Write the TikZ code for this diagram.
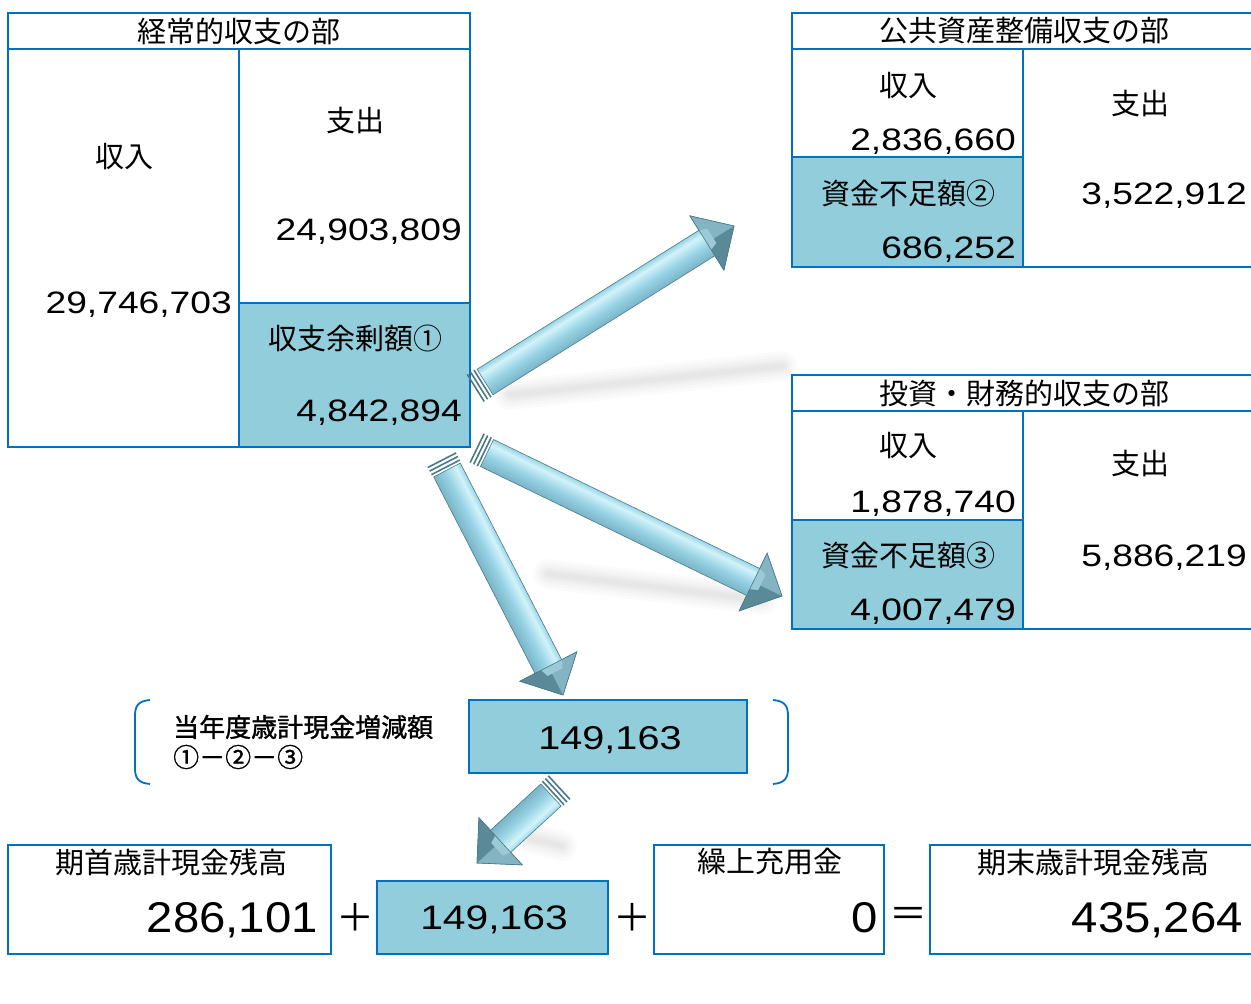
\documentclass[tikz,border=0pt]{standalone}
\usepackage{fontspec}
\setmainfont{Noto Sans CJK JP}
\newfontfamily\jp{Noto Sans CJK JP}
\newfontfamily\jpb[FakeBold=1.2]{Noto Sans CJK JP}
\newfontfamily\numA[FakeStretch=1.2]{Liberation Sans}
\newfontfamily\numB[FakeStretch=1.1]{Liberation Sans}
\usetikzlibrary{calc}
\definecolor{bd}{HTML}{0070C0}
\definecolor{fl}{HTML}{92CDDC}
\definecolor{adk}{HTML}{4F7F8C}
\definecolor{aed}{HTML}{4A7A88}
\definecolor{amd}{HTML}{74AEC0}
\definecolor{alt}{HTML}{97D3E5}
\definecolor{ahl}{HTML}{D2F3FA}
\definecolor{atp}{HTML}{7FB8C9}
\definecolor{ahd}{HTML}{6E9FAD}
\definecolor{hup}{HTML}{84B3C1}
\definecolor{hlo}{HTML}{5A8A98}
\definecolor{hin}{HTML}{9CC9D6}
\pgfdeclareverticalshading{arrowshade}{100bp}{color(0bp)=(ahd); color(26bp)=(adk); color(28bp)=(adk); color(36bp)=(amd); color(48bp)=(alt); color(57bp)=(ahl); color(62bp)=(alt); color(70bp)=(atp); color(73bp)=(ahd); color(100bp)=(ahd)}
\newdimen\adx \newdimen\ady
\newcommand\mkcell[6]{\node[#1, minimum width={#5-#3}, minimum height={#6-#4}] (#2) at ({(#3+#5)/2},{(#4+#6)/2}) {};}
\newcommand\blockarrow[2]{%
  \pgfextractx{\adx}{\pgfpointdiff{\pgfpointanchor{#1}{center}}{\pgfpointanchor{#2}{center}}}%
  \pgfextracty{\ady}{\pgfpointdiff{\pgfpointanchor{#1}{center}}{\pgfpointanchor{#2}{center}}}%
  \pgfmathsetmacro\aang{atan2(\ady,\adx)}%
  \pgfmathsetmacro\alen{veclen(\adx,\ady)}%
  \begin{scope}[transform canvas={shift={(#1)},rotate=\aang}]
    \path[arrowbody] (0pt,-15pt) -- ({\alen pt-32pt},-15pt) -- ({\alen pt-32pt},-32pt) -- (\alen pt,0pt)
       -- ({\alen pt-32pt},32pt) -- ({\alen pt-32pt},15pt) -- (0pt,15pt) -- cycle;
    \fill[hup] ({\alen pt-32pt},0pt) -- ({\alen pt-32pt},32pt) -- (\alen pt,0pt) -- cycle;
    \fill[hlo] ({\alen pt-32pt},0pt) -- ({\alen pt-32pt},-32pt) -- (\alen pt,0pt) -- cycle;
    \fill[hin] ({\alen pt-32pt},-8pt) -- ({\alen pt-24pt},-5pt) -- ({\alen pt-24pt},12pt) -- ({\alen pt-32pt},15pt) -- cycle;
    \draw[aed, line width=0.6pt, line join=miter] ({\alen pt-32pt},-32pt) -- (\alen pt,0pt) -- ({\alen pt-32pt},32pt) -- cycle;
    \foreach \k in {3,7,11}{\draw[stripe] (-\k pt,-16pt) -- (-\k pt,16pt);}
  \end{scope}%
}
\newcommand\softshadow[2]{%
  \foreach \w in {30,24,18,13,9,5}{\draw[line width=\w pt, line cap=round, gray, opacity=0.03] (#1) -- (#2);}%
}
\tikzset{
  cell/.style={draw=bd, line width=2.6pt, inner sep=0pt, outer sep=0pt, rectangle},
  fcell/.style={cell, fill=fl},
  lbl/.style={font=\jp\fontsize{29}{29}\selectfont, inner sep=0pt},
  lblb/.style={font=\jpb\fontsize{26}{26}\selectfont, inner sep=0pt, anchor=west},
  numt/.style={font=\numA\fontsize{31}{31}\selectfont, inner sep=0pt, anchor=base east},
  numr/.style={font=\numA\fontsize{33}{33}\selectfont, inner sep=0pt, anchor=base},
  numbig/.style={font=\numB\fontsize{43}{43}\selectfont, inner sep=0pt, anchor=base east},
  numsm/.style={font=\numA\fontsize{34}{34}\selectfont, inner sep=0pt, anchor=base},
  op/.style={font=\jp\fontsize{38}{38}\selectfont, inner sep=0pt},
  arrowbody/.style={shading=arrowshade, draw=aed, line width=0.6pt, line join=miter},
  stripe/.style={draw=aed, line width=1.6pt},
  brk/.style={draw=bd, line width=1.8pt}
}
\begin{document}
\begin{tikzpicture}[x=1pt,y=-1pt]
\useasboundingbox[fill=white] (0,0) rectangle (1251,1004);
% ---------- shadows ----------
\coordinate (sh1a) at (510,395); \coordinate (sh1b) at (782,366);
\coordinate (sh2a) at (548,574); \coordinate (sh2b) at (762,600);
\coordinate (sh4a) at (530,838); \coordinate (sh4b) at (562,846);
\softshadow{sh1a}{sh1b}
\softshadow{sh2a}{sh2b}
\softshadow{sh4a}{sh4b}
% ---------- box 1 ----------
\mkcell{cell}{c1t}{8}{13}{470}{49}
\mkcell{cell}{c1l}{8}{49}{239}{447}
\mkcell{cell}{c1a}{239}{49}{470}{303}
\mkcell{fcell}{c1b}{239}{303}{470}{447}
\node[lbl] (t1) at (239,31) {経常的収支の部};
\node[lbl] (in1) at (124,157) {収入};
\node[numt] (v1) at (232,313) {29,746,703};
\node[lbl] (out1) at (355,121) {支出};
\node[numt] (v2) at (462,240) {24,903,809};
\node[lbl] (sur) at (355,338) {収支余剰額①};
\node[numt] (v3) at (462,421) {4,842,894};
% ---------- box 2 ----------
\mkcell{cell}{c2t}{792}{13}{1256}{49}
\mkcell{cell}{c2a}{792}{49}{1023}{157}
\mkcell{fcell}{c2b}{792}{157}{1023}{267}
\mkcell{cell}{c2r}{1023}{49}{1256}{267}
\node[lbl] (t2) at (1024,31) {公共資産整備収支の部};
\node[lbl] (in2) at (908,86) {収入};
\node[numt] (v4) at (1016,150) {2,836,660};
\node[lbl] (def2) at (908,193) {資金不足額②};
\node[numt] (v5) at (1016,258) {686,252};
\node[lbl] (out2) at (1140,104) {支出};
\node[numt] (v6) at (1247,204) {3,522,912};
% ---------- box 3 ----------
\mkcell{cell}{c3t}{792}{375}{1256}{411}
\mkcell{cell}{c3a}{792}{411}{1023}{520}
\mkcell{fcell}{c3b}{792}{520}{1023}{629}
\mkcell{cell}{c3r}{1023}{411}{1256}{629}
\node[lbl] (t3) at (1024,393) {投資・財務的収支の部};
\node[lbl] (in3) at (908,446) {収入};
\node[numt] (v7) at (1016,512) {1,878,740};
\node[lbl] (def3) at (908,555) {資金不足額③};
\node[numt] (v8) at (1016,620) {4,007,479};
\node[lbl] (out3) at (1140,464) {支出};
\node[numt] (v9) at (1247,566) {5,886,219};
% ---------- result ----------
\mkcell{fcell}{res}{469}{700}{747}{773}
\node[numr] (resv) at (610,749) {149,163};
\node[lblb] (rl1) at (173,727) {当年度歳計現金増減額};
\node[lblb] (rl2) at (173,757) {①－②－③};
\draw[brk] (150,700) .. controls (138,701) and (135,706) .. (135,716) -- (135,768) .. controls (135,778) and (138,783) .. (150,784);
\draw[brk] (773,700) .. controls (785,701) and (788,706) .. (788,716) -- (788,768) .. controls (788,778) and (785,783) .. (773,784);
% ---------- bottom ----------
\mkcell{cell}{b1}{8}{845}{331}{954}
\mkcell{fcell}{b2}{377}{881}{608}{954}
\mkcell{cell}{b3}{654}{845}{884}{954}
\mkcell{cell}{b4}{930}{845}{1256}{954}
\node[lbl] (b1t) at (171,862) {期首歳計現金残高};
\node[numbig] (b1v) at (318,932) {286,101};
\node[op] (pl1) at (355,917) {＋};
\node[numsm] (b2v) at (494,929) {149,163};
\node[op] (pl2) at (632,917) {＋};
\node[lbl] (b3t) at (770,862) {繰上充用金};
\node[numbig] (b3v) at (878,932) {0};
\node[op] (eq) at (908,917) {＝};
\node[lbl] (b4t) at (1093,862) {期末歳計現金残高};
\node[numbig] (b4v) at (1243,932) {435,264};
% ---------- arrows ----------
\coordinate (a1t) at (485,382); \coordinate (a1h) at (734,226);
\coordinate (a2t) at (487,453); \coordinate (a2h) at (782,596);
\coordinate (a3t) at (447,470); \coordinate (a3h) at (563,695);
\coordinate (a4t) at (551,795); \coordinate (a4h) at (477,863);
\blockarrow{a1t}{a1h}
\blockarrow{a2t}{a2h}
\blockarrow{a3t}{a3h}
\blockarrow{a4t}{a4h}
\end{tikzpicture}
\end{document}
